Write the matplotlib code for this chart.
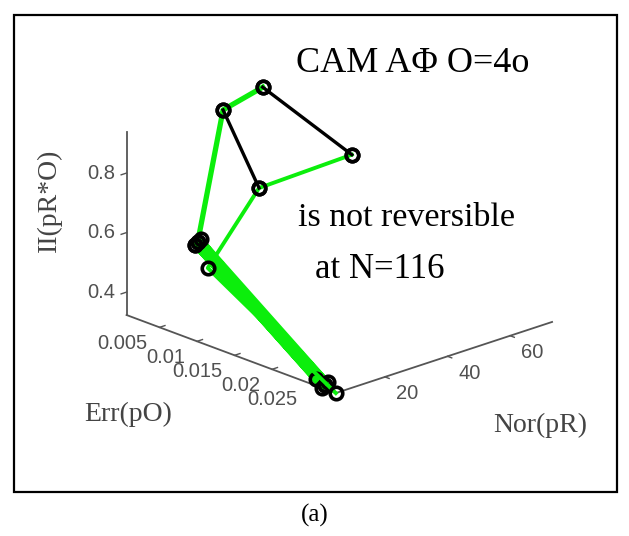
import numpy as np
import matplotlib
matplotlib.use("Agg")
import matplotlib.pyplot as plt
from matplotlib.patches import Rectangle
from mpl_toolkits.mplot3d import proj3d

# ---------------- data ----------------
err_lim = (0.0006, 0.0285)
nor_lim = (4.3, 73.4)
ii_lim = (0.323, 0.938)

err_ticks = [0.005, 0.01, 0.015, 0.02, 0.025]
err_ticklabels = ["0.005", "0.01", "0.015", "0.02", "0.025"]
nor_ticks = [20, 40, 60]
nor_ticklabels = ["20", "40", "60"]
ii_ticks = [0.4, 0.6, 0.8]
ii_ticklabels = ["0.4", "0.6", "0.8"]

# green trajectory: repeated back-and-forth between the low cluster and the middle cluster,
# then up to the top
green_main_err = [0.0256, 0.0020, 0.0267, 0.0020, 0.0266, 0.0020, 0.0266, 0.0020, 0.0266,
                  0.0020, 0.0012, 0.0006]
green_main_nor = [4.78, 22.7, 4.3, 22.7, 5.24, 23.7, 6.28, 24.6, 5.24,
                  23.7, 33.7, 47.8]
green_main_ii = [0.341, 0.508, 0.323, 0.508, 0.329, 0.515, 0.335, 0.521, 0.329,
                 0.515, 0.916, 0.938]
# second green branch
green_side_err = [0.0018, 0.0012, 0.0020, 0.0285]
green_side_nor = [73.4, 45.2, 26.9, 4.3]
green_side_ii = [0.634, 0.614, 0.416, 0.323]
# black segments
black_err = [0.0006, 0.0018, np.nan, 0.0012, 0.0012]
black_nor = [47.8, 73.4, np.nan, 33.7, 45.2]
black_ii = [0.938, 0.634, np.nan, 0.916, 0.614]

title_text = "CAM AΦ O=4o"
note1 = "is not reversible"
note2 = "at N=116"
xlabel = "Err(pO)"
ylabel = "Nor(pR)"
zlabel = "II(pR*O)"
caption = "(a)"

# ---------------- layout ----------------
W, H = 629, 536
fig = plt.figure(figsize=(W / 100, H / 100), dpi=100)
fig.patch.set_facecolor("white")

ax = fig.add_axes([0.1, 0.1, 0.8, 0.8], projection="3d", proj_type="ortho")
ax.view_init(elev=20.5, azim=-43.2)
ax.set_box_aspect((305, 296, 195))
ax.set_axis_off()

green = "#0cee0c"
axis_color = "#555555"
tick_color = "#505050"
mk = dict(marker="o", ms=9, mfc="none", mec="black", mew=2.6)

ax.plot(green_main_err, green_main_nor, green_main_ii, color=green, lw=3.8, zorder=3, **mk)
ax.plot(green_side_err, green_side_nor, green_side_ii, color=green, lw=2.8, zorder=3, **mk)
ax.plot(black_err, black_nor, black_ii, color="black", lw=2.4, zorder=4, **mk)

# axis lines (MATLAB style, box off)
e0, e1 = err_lim
n0, n1 = nor_lim
z0, z1 = ii_lim
ax.plot([e0, e0], [n0, n0], [z0, z1], color=axis_color, lw=1.3)
ax.plot([e0, e1], [n0, n0], [z0, z0], color=axis_color, lw=1.3)
ax.plot([e1, e1], [n0, n1], [z0, z0], color=axis_color, lw=1.3)

dn = 0.025 * (n1 - n0)
de = 0.02 * (e1 - e0)
for zt in ii_ticks:
    ax.plot([e0, e0], [n0, n0 - dn], [zt, zt], color=axis_color, lw=1.0)
for et in err_ticks:
    ax.plot([et, et], [n0, n0 + dn], [z0, z0], color=axis_color, lw=1.0)
for nt in nor_ticks:
    ax.plot([e1, e1 + de], [nt, nt], [z0, z0], color=axis_color, lw=1.0)

ax.set_xlim(*err_lim)
ax.set_ylim(*nor_lim)
ax.set_zlim(*ii_lim)

# ---- fit the 3D box onto the reference axis frame ----
anchor_pts = [(e0, n0, z0), (e1, n0, z0), (e1, n1, z0), (e0, n0, z1)]
anchor_img = [(127, 315), (336, 393), (552, 322), (126, 132)]
T = np.array([(x, H - y) for x, y in anchor_img], float)


def project(pts):
    pts = np.atleast_2d(np.asarray(pts, float))
    xs, ys, _z = proj3d.proj_transform(pts[:, 0], pts[:, 1], pts[:, 2], ax.M)
    return ax.transData.transform(np.column_stack([xs, ys]))


for _ in range(3):
    fig.canvas.draw()
    P = project(anchor_pts)
    bb = ax.get_position(original=False)
    cx = (bb.x0 + bb.width / 2) * W
    cy = (bb.y0 + bb.height / 2) * H
    side = bb.width * W
    Q = P - np.array([cx, cy])
    qm, tm = Q.mean(0), T.mean(0)
    k = ((Q - qm) * (T - tm)).sum() / ((Q - qm) ** 2).sum()
    c_new = tm - k * qm
    s_new = side * k
    ax.set_position([(c_new[0] - s_new / 2) / W, (c_new[1] - s_new / 2) / H,
                     s_new / W, s_new / H])
fig.canvas.draw()

# ---- tick labels placed at the projected tick positions ----
tick_font = dict(family="Liberation Sans", size=14.5, color=tick_color)


def tick_label(pt, s, dx, dy, **kw):
    px, py = project([pt])[0]
    fig.text((px + dx) / W, (py + dy) / H, s, **kw, **tick_font)


for zt, s in zip(ii_ticks, ii_ticklabels):
    tick_label((e0, n0, zt), s, -11, 0, ha="right", va="center")
for et, s in zip(err_ticks, err_ticklabels):
    tick_label((et, n0, z0), s, -12, -16, ha="right", va="center")
for nt, s in zip(nor_ticks, nor_ticklabels):
    tick_label((e1, nt, z0), s, 11, -17, ha="left", va="center")


# ---- figure texts ----
def ftext(x, y, s, **kw):
    return fig.text(x / W, 1 - y / H, s, **kw)


serif = "Liberation Serif"
ftext(413, 63, title_text, family=serif, size=26, ha="center", va="center", color="black")
ftext(407, 218, note1, family=serif, size=24.5, ha="center", va="center", color="black")
ftext(380, 270, note2, family=serif, size=25, ha="center", va="center", color="black")
ftext(128, 414, xlabel, family=serif, size=20, ha="center", va="center", color="#444444")
ftext(540, 425, ylabel, family=serif, size=20, ha="center", va="center", color="#444444")
ftext(49, 200, zlabel, family=serif, size=20, ha="center", va="center", rotation=90,
      color="#444444")
ftext(315, 515, caption, family=serif, size=18, ha="center", va="center", color="black")

fig.add_artist(Rectangle((14 / W, 1 - 492 / H), 603 / W, 477 / H, transform=fig.transFigure,
                         fill=False, ec="black", lw=1.6))

fig.savefig("out.png", dpi=100, facecolor="white")
